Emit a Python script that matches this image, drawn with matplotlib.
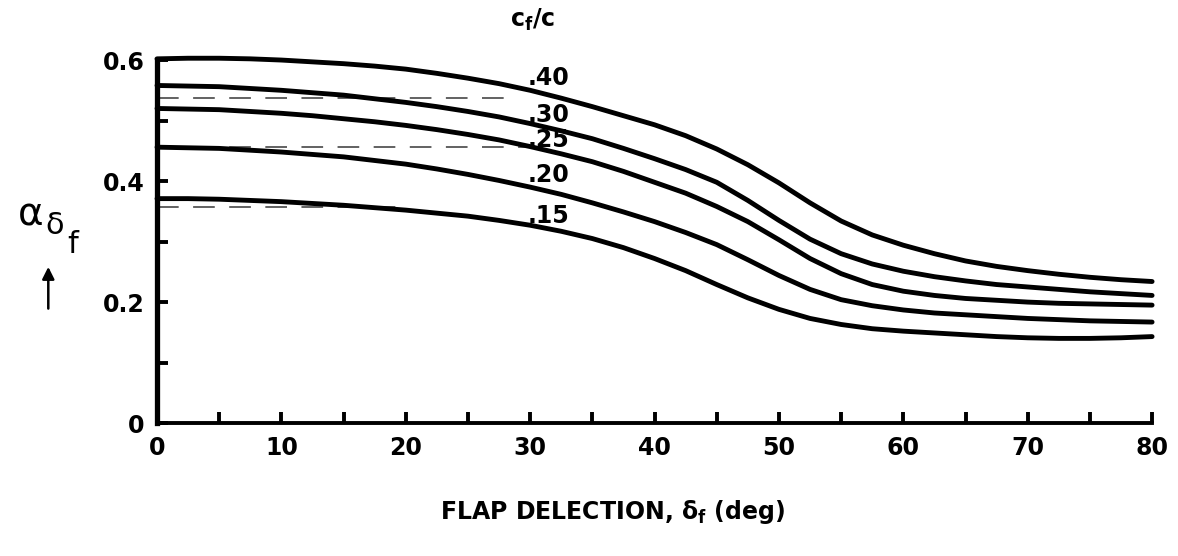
import numpy as np
import matplotlib.pyplot as plt

# flap deflection (deg), read every 2.5 deg
deflection = [0, 2.5, 5, 7.5, 10, 12.5, 15, 17.5, 20, 22.5, 25, 27.5, 30, 32.5,
              35, 37.5, 40, 42.5, 45, 47.5, 50, 52.5, 55, 57.5, 60, 62.5, 65,
              67.5, 70, 72.5, 75, 77.5, 80]

# alpha_delta_f for each flap-chord ratio
alpha_40 = [0.602, 0.603, 0.603, 0.602, 0.600, 0.597, 0.594, 0.590, 0.585,
            0.578, 0.570, 0.561, 0.550, 0.537, 0.523, 0.508, 0.493, 0.475,
            0.453, 0.427, 0.397, 0.364, 0.334, 0.311, 0.294, 0.280, 0.268,
            0.259, 0.252, 0.246, 0.241, 0.237, 0.234]
alpha_30 = [0.558, 0.557, 0.556, 0.553, 0.550, 0.546, 0.542, 0.536, 0.530,
            0.523, 0.515, 0.506, 0.495, 0.483, 0.470, 0.454, 0.437, 0.419,
            0.398, 0.368, 0.335, 0.304, 0.280, 0.263, 0.251, 0.242, 0.235,
            0.229, 0.225, 0.221, 0.217, 0.214, 0.211]
alpha_25 = [0.520, 0.519, 0.518, 0.515, 0.512, 0.508, 0.503, 0.498, 0.492,
            0.485, 0.477, 0.468, 0.457, 0.445, 0.432, 0.416, 0.398, 0.380,
            0.358, 0.333, 0.303, 0.272, 0.247, 0.229, 0.218, 0.211, 0.206,
            0.203, 0.200, 0.198, 0.197, 0.196, 0.195]
alpha_20 = [0.456, 0.455, 0.454, 0.451, 0.448, 0.444, 0.440, 0.434, 0.428,
            0.420, 0.411, 0.401, 0.390, 0.378, 0.364, 0.349, 0.333, 0.315,
            0.295, 0.270, 0.244, 0.221, 0.204, 0.194, 0.187, 0.182, 0.179,
            0.176, 0.173, 0.171, 0.169, 0.168, 0.167]
alpha_15 = [0.371, 0.371, 0.370, 0.368, 0.366, 0.363, 0.360, 0.356, 0.352,
            0.347, 0.342, 0.335, 0.327, 0.317, 0.305, 0.290, 0.272, 0.252,
            0.229, 0.207, 0.188, 0.173, 0.163, 0.156, 0.152, 0.149, 0.146,
            0.143, 0.141, 0.140, 0.140, 0.141, 0.143]

curves = [alpha_40, alpha_30, alpha_25, alpha_20, alpha_15]
curve_labels = ['.40', '.30', '.25', '.20', '.15']
label_offsets = [0.020, 0.014, 0.011, 0.020, 0.015]

# faint dashed lines left over on the scanned sheet
ghost_levels = [0.537, 0.457, 0.357]
ghost_ends = [28, 30, 20]

x_ticks = [0, 10, 20, 30, 40, 50, 60, 70, 80]
y_ticks = [0, 0.2, 0.4, 0.6]
y_tick_labels = ['0', '0.2', '0.4', '0.6']

plt.rcParams['font.family'] = ['DejaVu Sans']

fig = plt.figure(figsize=(11.78, 5.56), dpi=100, facecolor='white')
ax = fig.add_axes([0.1333, 0.239, 0.8447, 0.653])

for lvl, xe in zip(ghost_levels, ghost_ends):
    ax.plot([0, xe], [lvl, lvl], color='#555555', lw=1.3, dashes=(12, 8))

for vals, lab, off in zip(curves, curve_labels, label_offsets):
    ax.plot(deflection, vals, color='black', lw=3.5, solid_capstyle='round',
            solid_joinstyle='round', clip_on=False)
    ax.text(31.5, vals[12] + off, lab, ha='center', va='center',
            fontsize=17, fontweight='bold')

ax.set_xlim(0, 80)
ax.set_ylim(0, 0.6)
ax.spines['top'].set_visible(False)
ax.spines['right'].set_visible(False)
ax.spines['left'].set_linewidth(3.8)
ax.spines['bottom'].set_linewidth(2.8)

ax.set_xticks(x_ticks)
ax.set_xticks(np.arange(5, 81, 10), minor=True)
ax.set_yticks(y_ticks)
ax.set_yticklabels(y_tick_labels)
ax.set_yticks([0.1, 0.3, 0.5], minor=True)
ax.tick_params(axis='both', which='both', direction='in', length=8, width=2.8)
ax.tick_params(axis='x', which='major', pad=9, labelsize=17)
ax.tick_params(axis='y', which='major', pad=9, labelsize=17)
for lbl in ax.get_xticklabels() + ax.get_yticklabels():
    lbl.set_fontweight('bold')

# header and axis labels
fig.text(0.452, 0.965, r'c$_{\mathbf{f}}$/c', ha='center', va='center',
         fontsize=17, fontweight='bold')
fig.text(0.52, 0.079, r'FLAP DELECTION, $\mathbf{\delta_f}$ (deg)',
         ha='center', va='center', fontsize=17, fontweight='bold')

fig.text(0.026, 0.615, 'α', ha='center', va='center', fontsize=28)
fig.text(0.046, 0.595, 'δ', ha='center', va='center', fontsize=22)
fig.text(0.062, 0.56, 'f', ha='center', va='center', fontsize=22)
ax.annotate('', xy=(0.041, 0.525), xytext=(0.041, 0.44),
            xycoords='figure fraction', textcoords='figure fraction',
            arrowprops=dict(arrowstyle='-|>', color='black', lw=1.8,
                            mutation_scale=18))

fig.savefig('out.png', dpi=100, facecolor='white')
